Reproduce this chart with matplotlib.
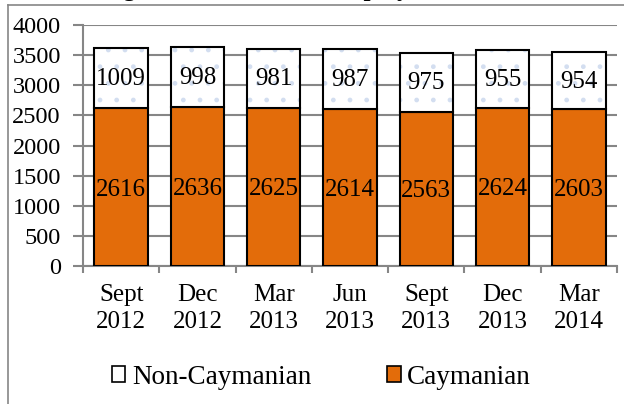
import matplotlib.pyplot as plt
from matplotlib.patches import Patch
from matplotlib.lines import Line2D
import numpy as np

# Données
periods = ['Sept\n2012', 'Dec\n2012', 'Mar\n2013', 'Jun\n2013', 'Sept\n2013', 'Dec\n2013', 'Mar\n2014']
caymanian = [2616, 2636, 2625, 2614, 2563, 2624, 2603]
non_caymanian = [1009, 998, 981, 987, 975, 955, 954]

orange = '#E36C0A'
grey = '#868686'
plt.rcParams['font.family'] = ['Liberation Serif', 'DejaVu Serif']

fig = plt.figure(figsize=(6.24, 4.04), dpi=100)
ax = fig.add_axes([83/624, 1 - 266/404, 534/624, 241/404])

x = np.arange(len(periods))
w = 0.7

# Barres
ax.bar(x, caymanian, w, color=orange, edgecolor='black', linewidth=1.5, zorder=3)
ax.bar(x, non_caymanian, w, bottom=caymanian, color='white', edgecolor='#d3def0',
       linewidth=0, hatch='.', zorder=3)
ax.bar(x, non_caymanian, w, bottom=caymanian, fill=False, edgecolor='black',
       linewidth=1.5, zorder=4)

# Étiquettes
for i in range(len(periods)):
    ax.text(x[i], caymanian[i] / 2 - 40, str(caymanian[i]), ha='center', va='center',
            fontsize=18, zorder=5)
    ax.text(x[i], caymanian[i] + non_caymanian[i] / 2 - 20, str(non_caymanian[i]),
            ha='center', va='center', fontsize=18, zorder=5)

# Axes
ax.set_ylim(0, 4000)
ax.set_xlim(-0.5, len(periods) - 0.5)
ax.set_yticks(range(0, 4001, 500))
ax.set_xticks(x)
ax.set_xticklabels(periods, fontsize=18, linespacing=1.3)
ax.set_xticks(np.arange(-0.5, len(periods), 1), minor=True)
ax.tick_params(axis='x', which='major', length=0, pad=13)
ax.tick_params(axis='x', which='minor', length=5, width=1.5, color=grey)
ax.tick_params(axis='y', labelsize=17.5, length=7, width=1.5, color=grey, pad=9)
ax.grid(axis='y', color=grey, linewidth=1.5, zorder=0)
for s in ['top', 'right']:
    ax.spines[s].set_visible(False)
for s in ['left', 'bottom']:
    ax.spines[s].set_color(grey)
    ax.spines[s].set_linewidth(1.5)

# Légende
handles = [Patch(facecolor='white', edgecolor='black', linewidth=1.2),
           Patch(facecolor=orange, edgecolor='black', linewidth=1.2)]
fig.legend(handles, ['Non-Caymanian', 'Caymanian'], loc='center',
           bbox_to_anchor=(0.515, 1 - 377/404), ncol=2, frameon=False,
           fontsize=19.5, handlelength=0.5, handleheight=0.5, handletextpad=0.25,
           columnspacing=2.8)

# Titre (coupé en haut) et cadre
fig.text(0.5, 1 + 4/404, 'Figure 4: Number of Employed Persons', ha='center',
         va='baseline', fontsize=18, fontweight='bold')
fig.add_artist(Line2D([8/624, 8/624], [1 - 5/404, 0], color=grey, linewidth=1.2))
fig.add_artist(Line2D([8/624, 1], [1 - 5/404, 1 - 5/404], color=grey, linewidth=1.2))

fig.savefig('out.png', dpi=100)
